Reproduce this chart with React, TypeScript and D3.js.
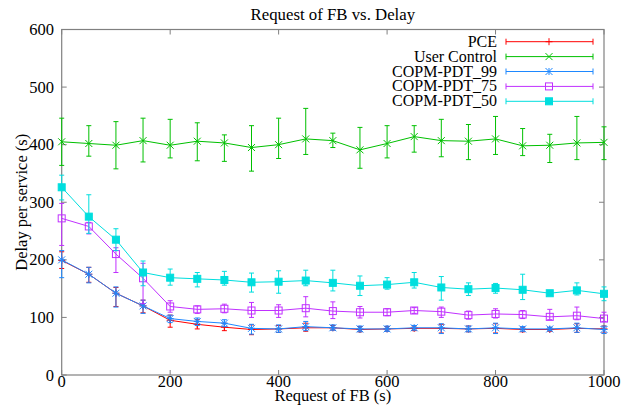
import * as d3 from "d3";

const requests = [0, 50, 100, 150, 200, 250, 300, 350, 400, 450, 500, 550, 600, 650, 700, 750, 800, 850, 900, 950, 1000];

const pceMean = [199, 175, 142, 120, 95, 88, 83, 79, 80, 82, 82, 79, 80, 81, 81, 80, 81, 79, 79, 81, 80];
const pceLow = [185, 161, 119, 108, 83, 80, 77, 70, 74, 76, 78, 75, 76, 77, 73, 75, 73, 75, 76, 74, 73];
const pceHigh = [214, 187, 152, 130, 104, 96, 90, 87, 86, 90, 86, 84, 84, 85, 88, 85, 89, 83, 82, 89, 85];

const userMean = [405, 402, 399, 407, 399, 406, 403, 395, 400, 410, 407, 391, 402, 414, 407, 406, 410, 398, 399, 403, 404];
const userLow = [364, 380, 358, 370, 377, 372, 371, 354, 376, 383, 395, 359, 377, 387, 379, 374, 383, 381, 369, 374, 374];
const userHigh = [446, 433, 440, 446, 444, 438, 417, 433, 446, 463, 420, 430, 433, 433, 444, 435, 449, 428, 418, 449, 431];

const p99Mean = [200, 175, 142, 120, 98, 93, 90, 81, 80, 84, 82, 80, 80, 82, 82, 80, 82, 80, 80, 82, 79];
const p99Low = [169, 160, 118, 107, 91, 86, 84, 71, 74, 77, 78, 75, 76, 78, 72, 75, 72, 76, 77, 74, 72];
const p99High = [216, 187, 153, 130, 104, 99, 96, 88, 87, 93, 87, 85, 85, 86, 89, 85, 90, 84, 83, 90, 85];

const p75Mean = [272, 258, 210, 168, 119, 114, 115, 112, 112, 116, 111, 109, 109, 112, 110, 104, 106, 105, 101, 103, 98];
const p75Low = [225, 245, 178, 124, 109, 107, 108, 100, 100, 101, 98, 99, 103, 107, 100, 97, 99, 98, 96, 96, 93];
const p75High = [298, 265, 221, 194, 129, 120, 123, 126, 122, 136, 127, 119, 115, 117, 118, 111, 115, 112, 114, 118, 109];

const p50Mean = [326, 275, 235, 178, 169, 167, 165, 161, 162, 164, 160, 155, 157, 161, 152, 149, 151, 148, 142, 147, 141];
const p50Low = [304, 246, 216, 155, 156, 153, 156, 144, 142, 155, 146, 138, 149, 151, 130, 138, 142, 131, 138, 139, 129];
const p50High = [347, 313, 254, 198, 184, 178, 180, 177, 181, 182, 182, 172, 169, 178, 171, 160, 159, 175, 146, 160, 153];

const xTicks = [0, 200, 400, 600, 800, 1000];
const yTicks = [0, 100, 200, 300, 400, 500, 600];

type Marker = "plus" | "cross" | "star" | "square" | "filled";

interface Series {
  name: string;
  color: string;
  marker: Marker;
  mean: number[];
  low: number[];
  high: number[];
}

const series: Series[] = [
  { name: "PCE", color: "#ff0000", marker: "plus", mean: pceMean, low: pceLow, high: pceHigh },
  { name: "User Control", color: "#00c000", marker: "cross", mean: userMean, low: userLow, high: userHigh },
  { name: "COPM-PDT_99", color: "#1e88ff", marker: "star", mean: p99Mean, low: p99Low, high: p99High },
  { name: "COPM-PDT_75", color: "#c030ff", marker: "square", mean: p75Mean, low: p75Low, high: p75High },
  { name: "COPM-PDT_50", color: "#00dede", marker: "filled", mean: p50Mean, low: p50Low, high: p50High },
];

const W = 641;
const H = 408;
const left = 61.7;
const right = 604;
const top = 29.5;
const bottom = 375;
const font = '"Liberation Serif", "DejaVu Serif", serif';

const x = d3.scaleLinear().domain([0, 1000]).range([left, right]);
const y = d3.scaleLinear().domain([0, 600]).range([bottom, top]);

function drawMarker(m: Marker, cx: number, cy: number, color: string, key: string) {
  const s = 3.5;
  if (m === "plus") {
    return (
      <path key={key} d={`M${cx - s},${cy}H${cx + s}M${cx},${cy - s}V${cy + s}`} stroke={color} fill="none" />
    );
  }
  if (m === "cross") {
    return (
      <path key={key} d={`M${cx - s},${cy - s}L${cx + s},${cy + s}M${cx - s},${cy + s}L${cx + s},${cy - s}`} stroke={color} fill="none" />
    );
  }
  if (m === "star") {
    return (
      <path
        key={key}
        d={`M${cx - s},${cy - s}L${cx + s},${cy + s}M${cx - s},${cy + s}L${cx + s},${cy - s}M${cx - s},${cy}H${cx + s}M${cx},${cy - s}V${cy + s}`}
        stroke={color}
        fill="none"
      />
    );
  }
  const h = 3.5;
  return (
    <rect
      key={key}
      x={cx - h}
      y={cy - h}
      width={2 * h}
      height={2 * h}
      stroke={color}
      fill={m === "filled" ? color : "none"}
    />
  );
}

export default function App() {
  const line = d3
    .line<number>()
    .x((_, i) => x(requests[i]))
    .y((d) => y(d));

  const cap = 2.5;
  const legendTextX = 497;
  const legendX0 = 506;
  const legendX1 = 593;
  const legendMid = 549;
  const legendY0 = 41.7;
  const legendStep = 14.9;

  return (
    <svg
      width={W}
      height={H}
      style={{ position: "absolute", left: 0, top: 0, background: "#fff", fontFamily: font }}
    >
      <rect x={0} y={0} width={W} height={H} fill="#fff" />
      <text x={(left + right) / 2} y={20} textAnchor="middle" fontSize={16.8} style={{ fontFamily: font }}>
        Request of FB vs. Delay
      </text>

      {/* frame and ticks */}
      <rect x={left} y={top} width={right - left} height={bottom - top} fill="none" stroke="#808080" strokeWidth={1.2} />
      {yTicks.map((t) => (
        <g key={"y" + t}>
          <line x1={left} x2={left + 5} y1={y(t)} y2={y(t)} stroke="#808080" />
          <line x1={right} x2={right - 5} y1={y(t)} y2={y(t)} stroke="#808080" />
          <text x={54} y={y(t) + 5.5} textAnchor="end" fontSize={16.5} style={{ fontFamily: font }}>
            {t}
          </text>
        </g>
      ))}
      {xTicks.map((t) => (
        <g key={"x" + t}>
          <line x1={x(t)} x2={x(t)} y1={bottom} y2={bottom - 5} stroke="#808080" />
          <line x1={x(t)} x2={x(t)} y1={top} y2={top + 5} stroke="#808080" />
          <text x={x(t)} y={387} textAnchor="middle" fontSize={16.5} style={{ fontFamily: font }}>
            {t}
          </text>
        </g>
      ))}
      <text x={(left + right) / 2} y={401} textAnchor="middle" fontSize={16.5} style={{ fontFamily: font }}>
        Request of FB (s)
      </text>
      <text
        transform={`translate(27,${(top + bottom) / 2}) rotate(-90)`}
        textAnchor="middle"
        fontSize={16.5}
        style={{ fontFamily: font }}
      >
        Delay per service (s)
      </text>

      {/* series */}
      {series.map((s) => (
        <g key={s.name}>
          <path d={line(s.mean) ?? ""} fill="none" stroke={s.color} strokeWidth={1} />
          {requests.map((r, i) => {
            const px = x(r);
            const yl = y(s.low[i]);
            const yh = y(s.high[i]);
            return (
              <path
                key={"e" + i}
                d={`M${px},${yl}V${yh}M${px - cap},${yl}H${px + cap}M${px - cap},${yh}H${px + cap}`}
                stroke={s.color}
                fill="none"
                strokeWidth={1}
              />
            );
          })}
          {requests.map((r, i) => drawMarker(s.marker, x(r), y(s.mean[i]), s.color, "m" + i))}
        </g>
      ))}

      {/* legend */}
      {series.map((s, i) => {
        const ly = legendY0 + i * legendStep;
        return (
          <g key={"l" + s.name}>
            <text x={legendTextX} y={ly + 5} textAnchor="end" fontSize={16} style={{ fontFamily: font }}>
              {s.name}
            </text>
            <path
              d={`M${legendX0},${ly}H${legendX1}M${legendX0},${ly - 3}V${ly + 3}M${legendX1},${ly - 3}V${ly + 3}`}
              stroke={s.color}
              fill="none"
            />
            {drawMarker(s.marker, legendMid, ly, s.color, "lm")}
          </g>
        );
      })}
    </svg>
  );
}
